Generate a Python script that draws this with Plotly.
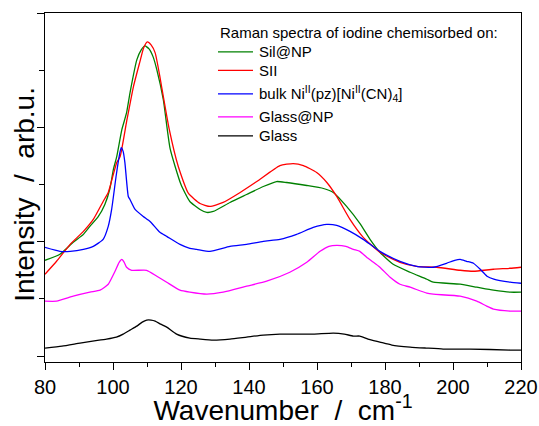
import plotly.graph_objects as go

# Raman spectra (wavenumber in cm^-1, intensity in arbitrary units, curves offset vertically)
wn_sil_np = [80, 84.4, 88.3, 91.3, 93.2, 95.7, 97.6, 99.1, 100.1, 101.1, 102.6, 104.0, 105.0, 107.0,
             108.3, 109.4, 110.6, 111.8, 112.9, 114.8, 116.8, 120.0, 122.6, 125.6, 127.6, 129.5,
             134.4, 139.3, 144.2, 148.1, 151.1, 157.0, 161.9, 164.8, 168.7, 172.6, 175.6, 178.5,
             182.4, 187.4, 192.3, 194.2, 202.1, 207.0, 211.9, 216.8, 220]
int_sil_np = [96, 102, 114, 122, 130, 140, 152, 168, 187, 200, 227, 244, 264, 297,
              307, 311, 308, 300, 287, 257, 208, 172, 155, 147, 144, 145,
              154, 162, 170, 175, 174, 171, 168, 164, 150, 133, 117, 104,
              92, 84, 77, 74, 72, 69, 66, 64, 64]

wn_sii = [80, 83.4, 87.4, 91.3, 94.2, 97.1, 98.6, 101.1, 102.1, 104.0, 106.0, 107.9, 109.0, 110.1,
          111.2, 112.4, 113.8, 114.3, 116.5, 119.2, 122.2, 125.6, 128.5, 132.4, 137.4, 142.3,
          149.1, 153.0, 156.0, 159.9, 162.9, 165.8, 169.7, 173.6, 178.5, 184.4, 189.3, 195.2,
          202.1, 206.0, 211.9, 216.8, 220]
int_sii = [82, 95, 112, 125, 137, 155, 164, 194, 200, 235, 270, 295, 309, 315,
           312, 304, 280, 270, 228, 190, 163, 153, 150, 154, 164, 175,
           191, 193, 191, 184, 174, 160, 137, 119, 104, 94, 90, 89,
           86, 85, 87, 88, 89]

wn_bulk = [80, 84.4, 87.4, 91.3, 94.2, 97.1, 98.6, 99.6, 100.9, 101.8, 102.4, 103.0, 103.5, 104.5,
           105.0, 106.5, 108.9, 110.9, 113.8, 115.8, 119.7, 122.6, 124.6, 128.5, 134.4, 139.3,
           144.2, 149.1, 154.0, 158.9, 162.9, 165.8, 169.7, 173.6, 178.5, 184.4, 189.3, 194.2,
           198.1, 200.5, 202.1, 204.0, 206.0, 208.0, 210.0, 212.0, 216.8, 220]
int_bulk = [109, 105, 105, 107, 110, 117, 130, 147, 180, 200, 209, 205, 194, 160,
            157, 147, 140, 135, 124, 120, 112, 108, 107, 105, 110, 112,
            115, 117, 122, 129, 132, 131, 125, 117, 105, 95, 90, 89,
            93, 96, 97, 95, 93, 87, 80, 77, 74, 73]

wn_glass_np = [80, 83.4, 88.3, 93.2, 96.2, 98.6, 100.6, 101.8, 102.6, 103.3, 104.0, 105.5, 109.9,
               112.9, 115.8, 119.7, 122.6, 127.6, 132.4, 139.3, 145.2, 152.0, 157.0, 160.9,
               163.5, 165.8, 168.5, 170.7, 172.6, 174.6, 176.6, 178.5, 181.5, 184.4, 187.4,
               192.3, 194.2, 202.1, 207.0, 209.9, 211.9, 216.8, 220]
int_glass_np = [55, 55, 60, 64, 66, 72, 85, 94, 97, 94, 89, 86, 86,
                80, 74, 66, 64, 62, 64, 70, 75, 84, 94, 105,
                110, 111, 110, 107, 105, 99, 94, 89, 79, 72, 69,
                63, 62, 60, 55, 50, 47, 45, 45]

wn_glass = [80, 85, 90.3, 94, 98.1, 101, 103, 105, 107, 108.6, 109.9, 111.2, 112.4, 114, 115.8,
            118.7, 122.6, 125.6, 129.5, 134.4, 139.3, 144.2, 149.1, 153.0, 158.9, 164.8, 168.0,
            170.7, 172.6, 175.0, 178.5, 182.0, 187.4, 192.0, 197.1, 205.0, 216.8, 220]
int_glass = [8, 10, 13, 15, 17, 19, 22, 26, 30, 34, 36, 36, 35, 32, 29,
             22, 18, 17, 16, 17, 19, 21, 22, 22, 22, 23, 22,
             20, 20, 17, 14, 11, 9, 8, 7, 7, 6, 6]

legend_title = "Raman spectra of iodine chemisorbed on:"
series_names = ["Sil@NP", "SII",
                "bulk Ni<sup>II</sup>(pz)[Ni<sup>II</sup>(CN)<sub>4</sub>]",
                "Glass@NP", "Glass"]
series_x = [wn_sil_np, wn_sii, wn_bulk, wn_glass_np, wn_glass]
series_y = [int_sil_np, int_sii, int_bulk, int_glass_np, int_glass]
series_colors = ["#008000", "#ff0000", "#0000ff", "#ff00ff", "#000000"]

FONT = "Arial, 'Liberation Sans', sans-serif"
NBSP = "\u00a0"

fig = go.Figure()
for name, x, y, color in zip(series_names, series_x, series_y, series_colors):
    fig.add_trace(go.Scatter(
        x=x, y=y, mode="lines", name=name, showlegend=False,
        line=dict(color=color, width=1.3, shape="spline", smoothing=0.5),
    ))

# Legend block drawn in paper coordinates: title, then a short line sample + label per series
legend_rows_y = [0.8884, 0.8355, 0.7682, 0.7024, 0.6481]
sample_x0, sample_x1, label_x = 0.3634, 0.437, 0.4454
fig.add_annotation(
    x=sample_x0, y=0.9428, xref="paper", yref="paper", xanchor="left", yanchor="middle",
    text=legend_title, showarrow=False, font=dict(family=FONT, size=15, color="black"),
)
for name, color, ry in zip(series_names, series_colors, legend_rows_y):
    fig.add_shape(type="line", xref="paper", yref="paper",
                  x0=sample_x0, x1=sample_x1, y0=ry, y1=ry,
                  line=dict(color=color, width=1.3))
    fig.add_annotation(
        x=label_x, y=ry, xref="paper", yref="paper", xanchor="left", yanchor="middle",
        text=name, showarrow=False, font=dict(family=FONT, size=15, color="black"),
    )

# Vertical axis title, rotated and set beside the left axis
fig.add_annotation(
    x=-0.042, y=0.479, xref="paper", yref="paper", xanchor="center", yanchor="middle",
    text="Intensity" + NBSP * 2 + "/" + NBSP * 2 + "arb.u.", textangle=-90, showarrow=False,
    font=dict(family=FONT, size=28, color="black"),
)

fig.update_layout(
    width=539, height=426,
    margin=dict(l=45, r=18, t=13, b=64),
    paper_bgcolor="white", plot_bgcolor="white",
    font=dict(family=FONT, color="black"),
    showlegend=False,
)

fig.update_xaxes(
    range=[80, 220], showgrid=False, zeroline=False, automargin=False,
    showline=True, linecolor="black", linewidth=1.3, mirror=True,
    ticks="outside", ticklen=7, tickwidth=1.2, tickcolor="black",
    tick0=80, dtick=20,
    minor=dict(ticks="outside", ticklen=4, tickwidth=1.2, tickcolor="black", dtick=10, showgrid=False),
    tickfont=dict(family=FONT, size=20, color="black"),
    title=dict(text="Wavenumber" + NBSP * 2 + "/" + NBSP * 2 + "cm<sup>-1</sup>",
               font=dict(family=FONT, size=28, color="black"), standoff=9),
)

fig.update_yaxes(
    range=[-6, 344], showgrid=False, zeroline=False, automargin=False,
    showline=True, linecolor="black", linewidth=1.3, mirror=True,
    ticks="outside", ticklen=7, tickwidth=1.2, tickcolor="black",
    tick0=0, dtick=114.4, showticklabels=False,
    minor=dict(ticks="outside", ticklen=5, tickwidth=1.2, tickcolor="black", dtick=57.2, showgrid=False),
)

fig.write_html("out.html")
